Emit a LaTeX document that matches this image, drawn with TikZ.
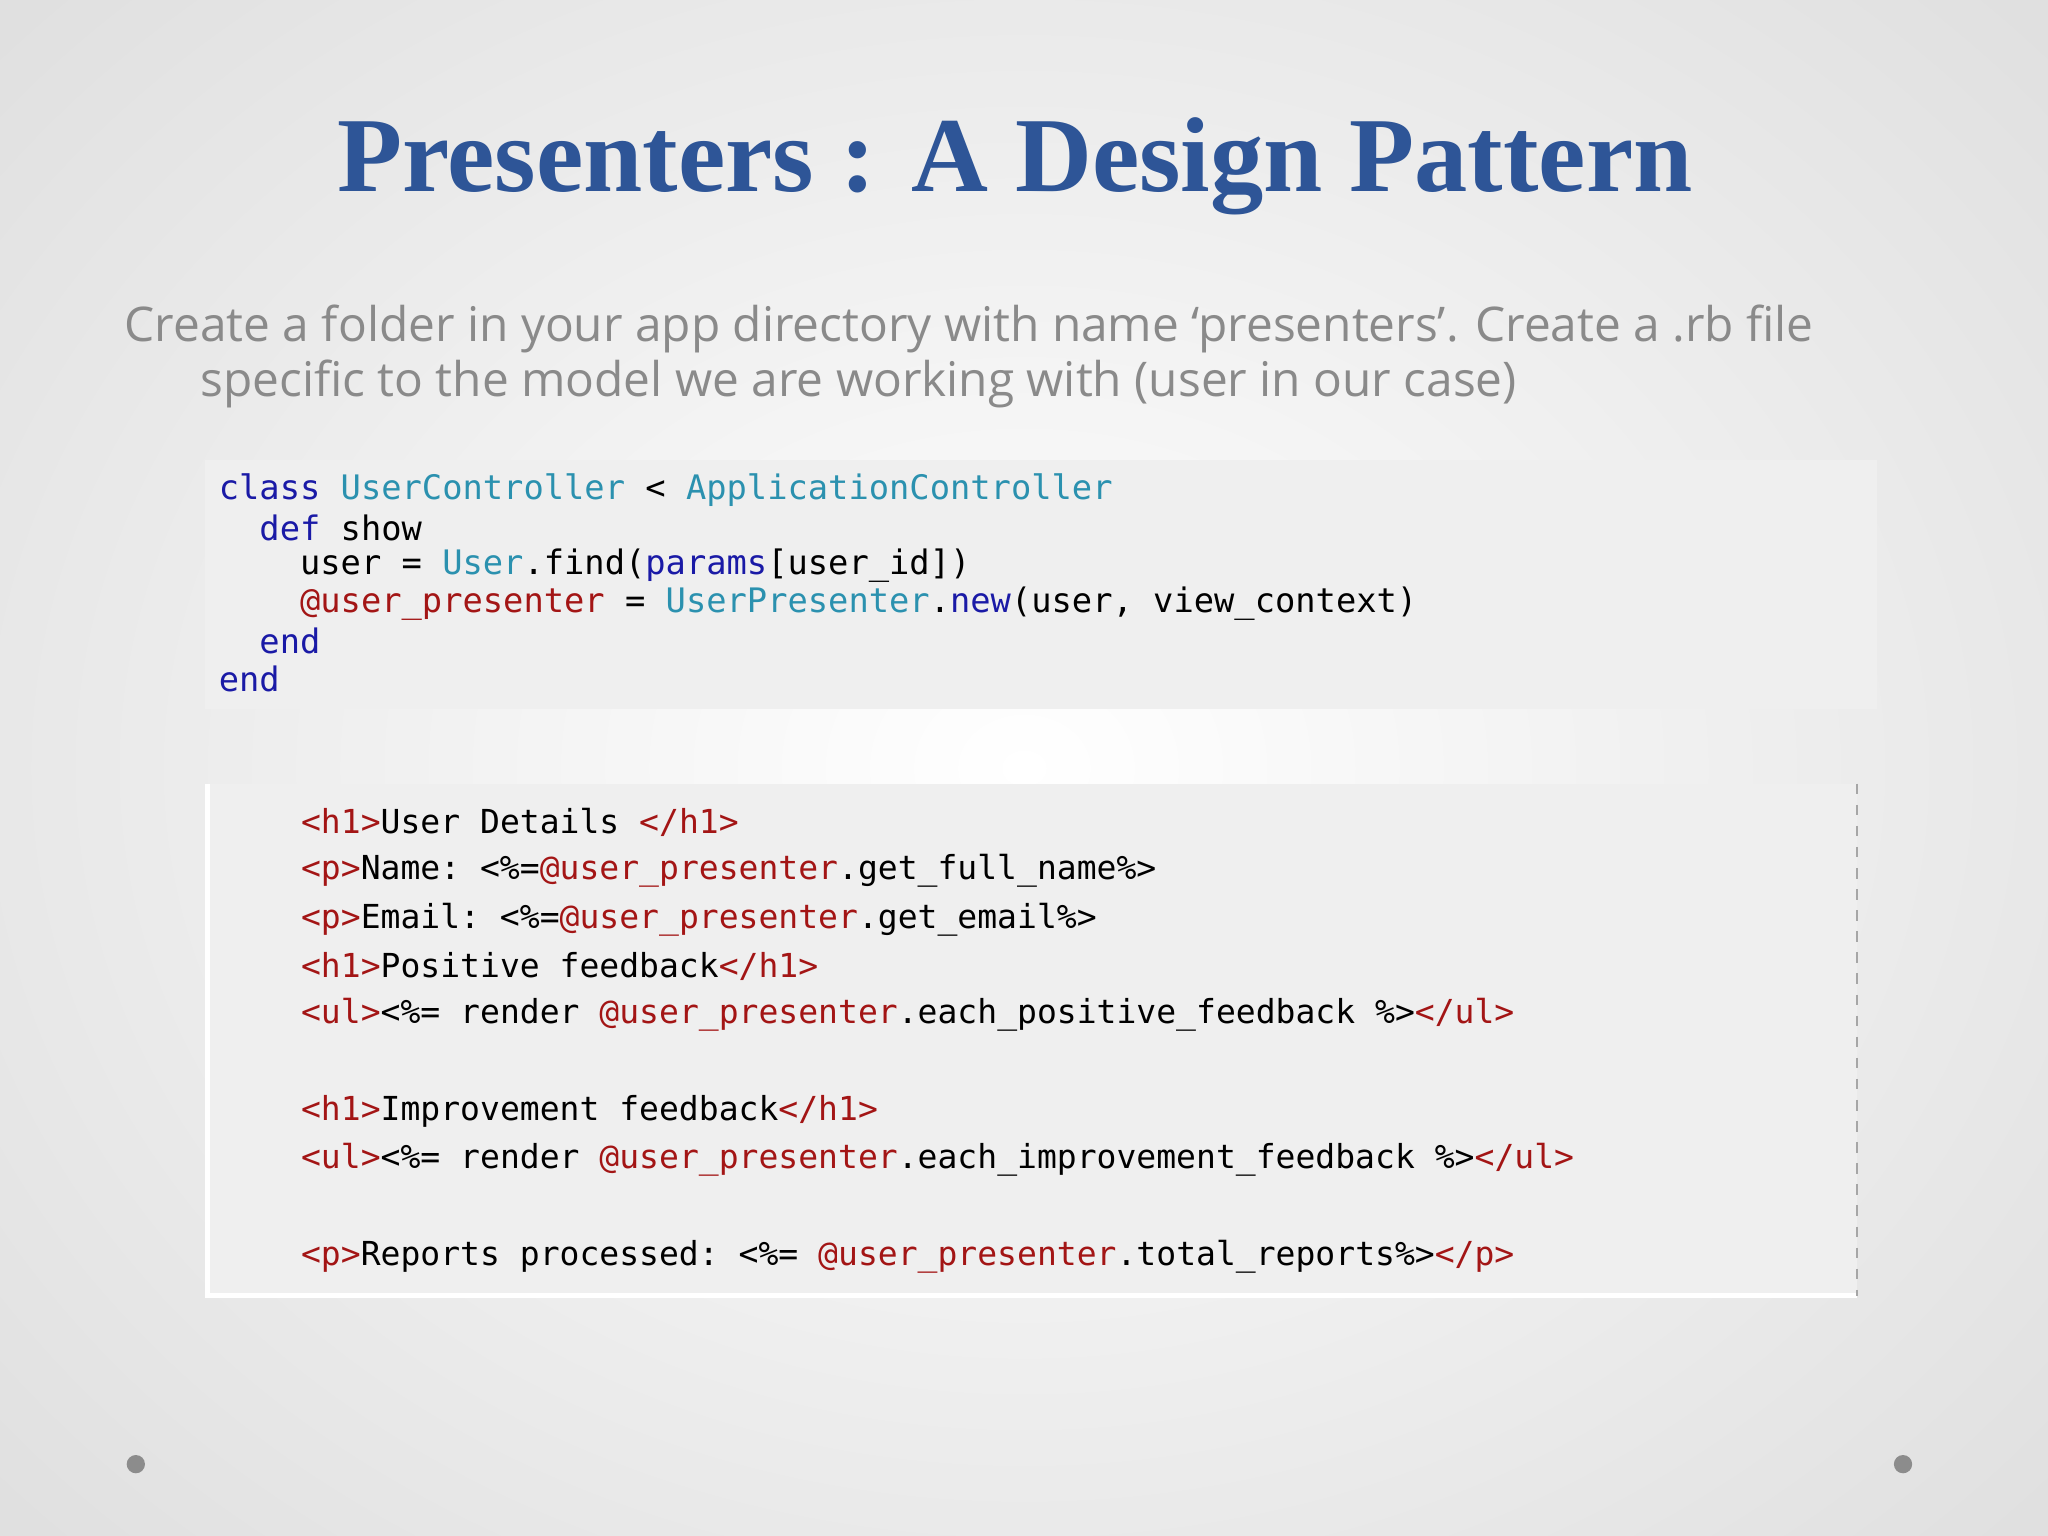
\documentclass[tikz,border=0pt]{standalone}
\usepackage{fontspec}
\setmainfont{Liberation Serif}
\newfontfamily\bodyfont{Open Sans}
\setmonofont{DejaVu Sans Mono}
\definecolor{titleblue}{HTML}{2E5597}
\definecolor{bodygray}{HTML}{8A8A8A}
\definecolor{kw}{HTML}{1A1AA6}
\definecolor{cls}{HTML}{2B91AF}
\definecolor{ivar}{HTML}{A31515}
\definecolor{tag}{HTML}{A31515}
\definecolor{codebg}{HTML}{EFEFEF}
\newcommand{\K}[1]{\textcolor{kw}{#1}}
\newcommand{\C}[1]{\textcolor{cls}{#1}}
\newcommand{\V}[1]{\textcolor{ivar}{#1}}
\newcommand{\T}[1]{\textcolor{tag}{#1}}
\begin{document}
\begin{tikzpicture}[x=0.01306cm,y=-0.01306cm,
  codeA/.style={anchor=west,inner sep=0,font=\ttfamily\fontsize{9.6}{11}\selectfont},
  codeB/.style={anchor=west,inner sep=0,font=\ttfamily\fontsize{9.4}{11}\selectfont},
  bodytxt/.style={anchor=west,inner sep=0,text=bodygray,font=\bodyfont\fontsize{13.6}{16}\selectfont}]
\useasboundingbox (0,0) rectangle (1568,1176);
\fill[black!12] (0,0) rectangle (1568,1176);
\shade[inner color=white,outer color=black!12] (-250,-250) rectangle (1818,1426);
\node[inner sep=0,text=titleblue,font=\bfseries\fontsize{30.3}{36}\selectfont] (title) at (777,127) {Presenters : A Design Pattern};
\node[bodytxt] (b1) at (95,252) {Create a folder in your app directory with name ‘presenters’. Create a .rb file};
\node[bodytxt] (b2) at (153,294) {specific to the model we are working with (user in our case)};
% code box 1
\fill[codebg] (157,352) rectangle (1437,543);
\node[codeA] (a1) at (167,375) {\K{class} \C{UserController} < \C{ApplicationController}};
\node[codeA] (a2) at (167,404) {\ \ \K{def} show};
\node[codeA] (a3) at (167,433) {\ \ \ \ user = \C{User}.find(\K{params}[user\_id])};
\node[codeA] (a4) at (167,462) {\ \ \ \ \V{@user\_presenter} = \C{UserPresenter}.\K{new}(user, view\_context)};
\node[codeA] (a5) at (167,491) {\ \ \K{end}};
\node[codeA] (a6) at (167,520) {\K{end}};
% code box 2
\fill[codebg] (159,600) rectangle (1422,992);
\draw[white,line width=1.5pt] (159,600) -- (159,992) -- (1422,992);
\draw[black!35,dashed,line width=0.5pt] (1422,600) -- (1422,992);
\node[codeB] (c1) at (230,630) {\T{<h1>}User Details \T{</h1>}};
\node[codeB] (c2) at (230,667) {\T{<p>}Name: <\%=\V{@user\_presenter}.get\_full\_name\%>};
\node[codeB] (c3) at (230,704) {\T{<p>}Email: <\%=\V{@user\_presenter}.get\_email\%>};
\node[codeB] (c4) at (230,740) {\T{<h1>}Positive feedback\T{</h1>}};
\node[codeB] (c5) at (230,777) {\T{<ul>}<\%= render \V{@user\_presenter}.each\_positive\_feedback \%>\T{</ul>}};
\node[codeB] (c6) at (230,851) {\T{<h1>}Improvement feedback\T{</h1>}};
\node[codeB] (c7) at (230,888) {\T{<ul>}<\%= render \V{@user\_presenter}.each\_improvement\_feedback \%>\T{</ul>}};
\node[codeB] (c8) at (230,962) {\T{<p>}Reports processed: <\%= \V{@user\_presenter}.total\_reports\%>\T{</p>}};
\fill[black!45] (104,1121) circle (7);
\fill[black!45] (1457,1121) circle (7);
\end{tikzpicture}
\end{document}
